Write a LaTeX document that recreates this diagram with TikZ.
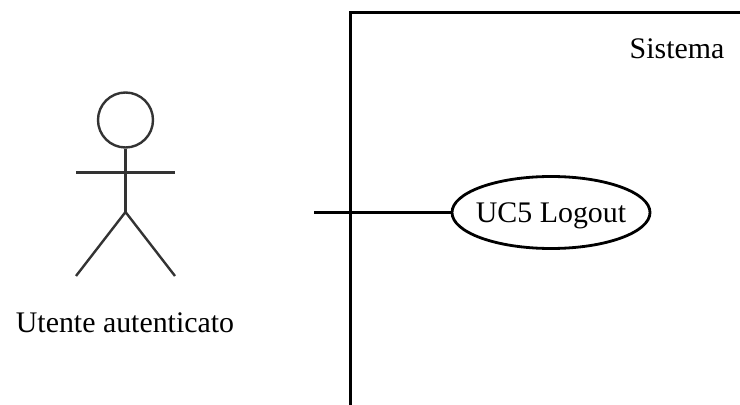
\documentclass[tikz,border=0pt]{standalone}
\usepackage{fontspec}
\setmainfont{Liberation Serif}
\usetikzlibrary{shapes.geometric}
\definecolor{actorGrey}{rgb}{0.2,0.2,0.2}
\tikzset{
    usecase/.style={draw=black,line width=2.8*0.03cm,ellipse,minimum width=198*0.03cm,minimum height=72*0.03cm,inner xsep=-6*0.03cm,inner ysep=0pt,text depth=0pt,font=\fontsize{25.5}{30}\selectfont},
    caption/.style={font=\fontsize{25.5}{30}\selectfont,inner sep=0pt,anchor=base},
    stick/.style={color=actorGrey,line width=2.4*0.03cm},
    link/.style={color=black,line width=2.8*0.03cm}
}
\begin{document}
\begin{tikzpicture}[x=0.03cm,y=-0.03cm]
    \useasboundingbox (0,0) rectangle (740,405);

    % draw system boundary
    \draw[link] (740,12.5) -- (350.5,12.5) -- (350.5,405);
    \node[caption] (sistema) at (677,59) {Sistema};

    % draw actor
    \node[stick,draw,circle,minimum size=55*0.03cm,inner sep=0pt] (head) at (125.5,120) {};
    \coordinate (hip) at (125.5,212);
    \coordinate (armL) at (76,172.5);
    \coordinate (armR) at (175,172.5);
    \coordinate (footL) at (76,276);
    \coordinate (footR) at (175,276);
    \draw[stick] (head) -- (hip);
    \draw[stick] (armL) -- (armR);
    \draw[stick] (footL) -- (hip) -- (footR);
    \node[caption] (actor) at (125,332) {Utente autenticato};

    % draw use case
    \node[usecase] (logout) at (551,212.5) {UC5 Logout};
    \coordinate (start) at (314,212.5);
    \draw[link] (start) -- (logout);
\end{tikzpicture}
\end{document}
